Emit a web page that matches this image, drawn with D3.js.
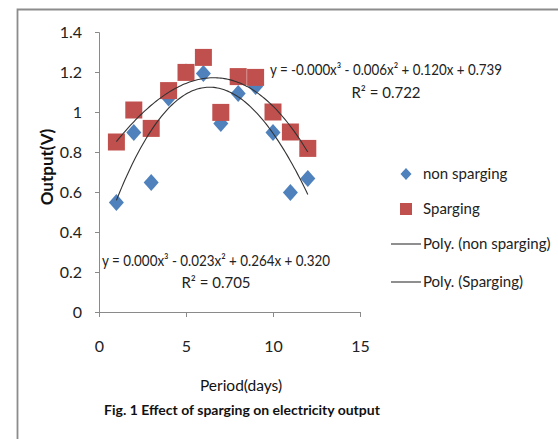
<!DOCTYPE html>
<html>
<head>
<meta charset="utf-8">
<script src="https://cdn.jsdelivr.net/npm/d3@7"></script>
<style>
  body { margin: 0; background: #fff; }
  text { font-family: Lato, "Liberation Sans", sans-serif; }
</style>
</head>
<body>
<div id="chart"></div>
<script>
// data
var days = [1, 2, 3, 4, 5, 6, 7, 8, 9, 10, 11, 12];
var nonSparging = [0.547, 0.897, 0.648, 1.07, 1.2, 1.193, 0.943, 1.093, 1.127, 0.897, 0.598, 0.668];
var sparging = [0.85, 1.01, 0.918, 1.107, 1.198, 1.273, 0.998, 1.177, 1.173, 1.0, 0.90, 0.818];
var xTicks = [0, 5, 10, 15];
var yTicks = [0, 0.2, 0.4, 0.6, 0.8, 1, 1.2, 1.4];
var eqNon = ['y = 0.000x³ - 0.023x² + 0.264x + 0.320', 'R² = 0.705'];
var eqSp = ['y = -0.000x³ - 0.006x² + 0.120x + 0.739', 'R² = 0.722'];
var legendItems = ['non sparging', 'Sparging', 'Poly. (non sparging)', 'Poly. (Sparging)'];

var W = 558, H = 439;
var blue = '#4f81bd', red = '#c0504d';
var font = 'Lato, "Liberation Sans", sans-serif';

var svg = d3.select('#chart')
            .append('svg')
            .attr('width', W)
            .attr('height', H);

// outer frame
svg.append('path')
   .attr('d', 'M17.5,' + H + 'V9.5H' + W)
   .attr('fill', 'none')
   .attr('stroke', '#8c8c8c')
   .attr('stroke-width', 1.8);

var x = d3.scaleLinear().domain([0, 15]).range([99, 360]);
var y = d3.scaleLinear().domain([0, 1.4]).range([312, 32]);

// axes
var gx = svg.append('g')
  .attr('transform', 'translate(0,' + y(0) + ')')
  .call(d3.axisBottom(x).tickValues(xTicks).tickSize(5).tickPadding(24).tickFormat(d3.format('d')));
var gy = svg.append('g')
  .attr('transform', 'translate(' + x(0) + ',0)')
  .call(d3.axisLeft(y).tickValues(yTicks).tickSize(4).tickPadding(13)
        .tickFormat(function(d){ return d === 0 || d === 1 ? String(d) : d3.format('.1f')(d); }));
[gx, gy].forEach(function(g){
  g.select('.domain').attr('stroke', '#8a8a8a');
  g.selectAll('.tick line').attr('stroke', '#8a8a8a');
  g.selectAll('.tick text').attr('fill', '#222').style('font-size', '16px').style('font-family', font);
});

// cubic least squares fit (Excel "Poly." trendline, order 3)
function polyFit(xs, ys, order){
  var n = order + 1, A = [], i, j, k;
  for (i = 0; i < n; i++){
    A.push([]);
    for (j = 0; j < n; j++){
      A[i].push(d3.sum(xs, function(v){ return Math.pow(v, i + j); }));
    }
    A[i].push(d3.sum(xs, function(v, idx){ return Math.pow(v, i) * ys[idx]; }));
  }
  for (i = 0; i < n; i++){
    for (k = i + 1; k < n; k++){
      var f = A[k][i] / A[i][i];
      for (j = i; j <= n; j++) A[k][j] -= f * A[i][j];
    }
  }
  var c = new Array(n);
  for (i = n - 1; i >= 0; i--){
    var s = A[i][n];
    for (j = i + 1; j < n; j++) s -= A[i][j] * c[j];
    c[i] = s / A[i][i];
  }
  return function(t){ return c[0] + c[1]*t + c[2]*t*t + c[3]*t*t*t; };
}

var fitNon = polyFit(days, nonSparging, 3);
var fitSp = polyFit(days, sparging, 3);
var xs = d3.range(0, 111).map(function(i){ return 1 + i * 0.1; });
var line = d3.line().x(function(d){ return x(d[0]); }).y(function(d){ return y(d[1]); });

function diamondPath(w, h){
  return 'M0,' + (-h/2) + 'L' + (w/2) + ',0L0,' + (h/2) + 'L' + (-w/2) + ',0Z';
}

// markers: diamonds first, squares on top
svg.append('g').selectAll('path')
  .data(days)
  .enter().append('path')
  .attr('d', diamondPath(15, 17))
  .attr('transform', function(d, i){ return 'translate(' + x(d) + ',' + y(nonSparging[i]) + ')'; })
  .attr('fill', blue);

svg.append('g').selectAll('rect')
  .data(days)
  .enter().append('rect')
  .attr('x', function(d){ return x(d) - 8.5; })
  .attr('y', function(d, i){ return y(sparging[i]) - 8.5; })
  .attr('width', 17).attr('height', 17)
  .attr('fill', red);

[fitNon, fitSp].forEach(function(fn){
  svg.append('path')
    .datum(xs.map(function(t){ return [t, fn(t)]; }))
    .attr('d', line)
    .attr('fill', 'none')
    .attr('stroke', '#333')
    .attr('stroke-width', 1.1);
});

// trendline equations
function label(txt, x0, y0, anchor){
  return svg.append('text').attr('x', x0).attr('y', y0).attr('text-anchor', anchor)
    .style('font-size', '15px').attr('fill', '#222').text(txt);
}
label(eqSp[0], 270, 75, 'start').attr('textLength', 232).attr('lengthAdjust', 'spacingAndGlyphs');
label(eqSp[1], 386, 98, 'middle');
label(eqNon[0], 102, 266, 'start').attr('textLength', 228).attr('lengthAdjust', 'spacingAndGlyphs');
label(eqNon[1], 216, 288, 'middle');

// legend
var rowsY = [174, 209, 244, 282];
legendItems.forEach(function(name, i){
  var cy = rowsY[i];
  if (i === 0){
    svg.append('path').attr('d', diamondPath(11, 12))
      .attr('transform', 'translate(406,' + cy + ')').attr('fill', blue);
  } else if (i === 1){
    svg.append('rect').attr('x', 400).attr('y', cy - 6).attr('width', 12).attr('height', 12).attr('fill', red);
  } else {
    svg.append('line').attr('x1', 391).attr('x2', 421).attr('y1', cy).attr('y2', cy)
      .attr('stroke', '#333').attr('stroke-width', 1.1);
  }
  label(name, 423, cy + 5, 'start');
});

// axis titles and caption
svg.append('text')
  .attr('transform', 'translate(53,167) rotate(-90)')
  .attr('text-anchor', 'middle')
  .style('font-size', '17px').style('font-weight', 'bold').attr('fill', '#111')
  .text('Output(V)');
label('Period(days)', 241, 391, 'middle').style('font-size', '15.5px').attr('fill', '#111');
label('Fig. 1 Effect of sparging on electricity output', 242, 415, 'middle')
  .style('font-size', '14px').style('font-weight', 'bold').attr('fill', '#111');
</script>
</body>
</html>
